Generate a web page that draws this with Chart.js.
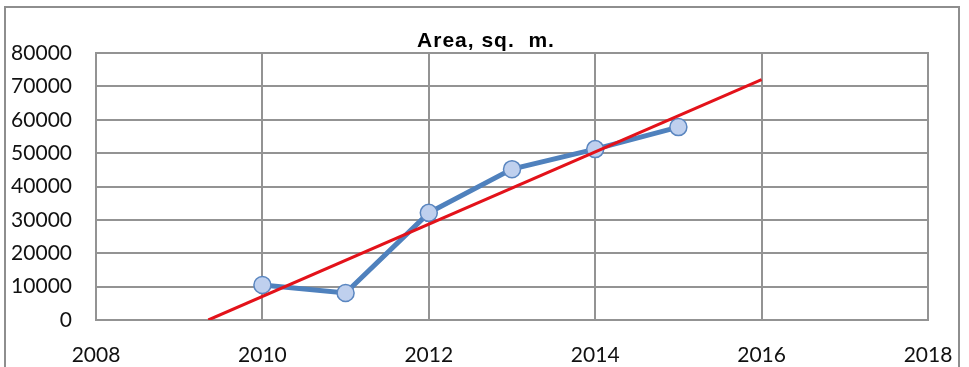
<!DOCTYPE html>
<html>
<head>
<meta charset="utf-8">
<script src="https://cdn.jsdelivr.net/npm/chart.js@4.4.1/dist/chart.umd.min.js"></script>
<style>
  html, body { margin: 0; padding: 0; background: #ffffff; }
  #wrap { position: relative; width: 969px; height: 367px; overflow: hidden; background: #ffffff; }
  #frame { position: absolute; left: 4px; top: 6px; width: 956px; height: 380px; border: 2px solid #8e8e8e; box-sizing: border-box; }
  #chart { position: absolute; left: 0; top: 0; }
</style>
</head>
<body>
<div id="wrap">
  <div id="frame"></div>
  <canvas id="chart" width="969" height="367"></canvas>
</div>
<script>
// Yearly floor area, square metres
const years = [2010, 2011, 2012, 2013, 2014, 2015];
const areaValues = [10500, 8100, 32100, 45200, 51200, 57800];

// Linear trend line end points
const trendYears = [2009.35, 2016];
const trendValues = [0, 72000];

// Axis ticks
const yearTicks = [2008, 2010, 2012, 2014, 2016, 2018];
const areaTicks = [0, 10000, 20000, 30000, 40000, 50000, 60000, 70000, 80000];

const titleText = 'Area, sq.  m.';

const toPoints = (xs, ys) => xs.map((x, i) => ({ x: x, y: ys[i] }));

const gridColor = '#939393';
const tickFont = { family: 'Lato', size: 21 };

// Title drawn with a little letter spacing
const titlePlugin = {
  id: 'spacedTitle',
  afterDraw(chart) {
    const ctx = chart.ctx;
    ctx.save();
    ctx.font = 'bold 21px "Liberation Sans", Arial, sans-serif';
    if ('letterSpacing' in ctx) ctx.letterSpacing = '1px';
    ctx.fillStyle = '#000000';
    ctx.textAlign = 'center';
    ctx.textBaseline = 'middle';
    ctx.fillText(titleText, 486, 41);
    ctx.restore();
  }
};

new Chart(document.getElementById('chart'), {
  type: 'scatter',
  data: {
    datasets: [
      {
        label: 'Trend',
        data: toPoints(trendYears, trendValues),
        showLine: true,
        borderColor: '#e3121a',
        borderWidth: 3,
        pointRadius: 0,
        pointHoverRadius: 0,
        fill: false
      },
      {
        label: 'Area',
        data: toPoints(years, areaValues),
        showLine: true,
        borderColor: '#4f81bd',
        borderWidth: 5,
        pointRadius: 8.5,
        pointHoverRadius: 8.5,
        pointBackgroundColor: '#bfd0ee',
        pointBorderColor: '#5a86c0',
        pointBorderWidth: 1.5,
        fill: false
      }
    ]
  },
  options: {
    responsive: false,
    animation: false,
    events: [],
    layout: { padding: { left: 0, right: 41, top: 53, bottom: 0 } },
    plugins: {
      legend: { display: false },
      title: { display: false },
      tooltip: { enabled: false }
    },
    scales: {
      x: {
        type: 'linear',
        min: 2008,
        max: 2018,
        afterBuildTicks(scale) { scale.ticks = yearTicks.map(v => ({ value: v })); },
        afterFit(scale) {
          scale.height = 47;
          scale.paddingLeft = 0;
          scale.paddingRight = 0;
        },
        ticks: {
          color: '#111111',
          font: tickFont,
          padding: 23,
          maxRotation: 0,
          callback: v => String(v)
        },
        grid: { color: gridColor, lineWidth: 2, drawTicks: false },
        border: { color: gridColor, width: 2 }
      },
      y: {
        type: 'linear',
        min: 0,
        max: 80000,
        afterBuildTicks(scale) { scale.ticks = areaTicks.map(v => ({ value: v })); },
        afterFit(scale) { scale.width = 96; },
        ticks: {
          color: '#111111',
          font: tickFont,
          padding: 24,
          callback: v => String(v)
        },
        grid: { color: gridColor, lineWidth: 2, drawTicks: false },
        border: { color: gridColor, width: 2 }
      }
    }
  },
  plugins: [titlePlugin, {
    id: 'plotFrame',
    beforeDatasetsDraw(chart) {
      const a = chart.chartArea, ctx = chart.ctx;
      ctx.save();
      ctx.strokeStyle = gridColor;
      ctx.lineWidth = 2;
      ctx.strokeRect(a.left, a.top, a.right - a.left, a.bottom - a.top);
      ctx.restore();
    }
  }]
});
</script>
</body>
</html>
